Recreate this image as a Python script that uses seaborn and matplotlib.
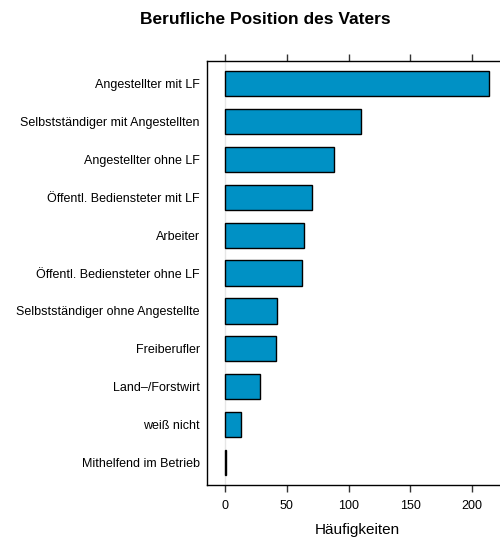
import matplotlib
matplotlib.use("Agg")
import matplotlib.pyplot as plt
import seaborn as sns
import pandas as pd

categories = [
    "Angestellter mit LF",
    "Selbstständiger mit Angestellten",
    "Angestellter ohne LF",
    "Öffentl. Bediensteter mit LF",
    "Arbeiter",
    "Öffentl. Bediensteter ohne LF",
    "Selbstständiger ohne Angestellte",
    "Freiberufler",
    "Land\u2013/Forstwirt",
    "weiß nicht",
    "Mithelfend im Betrieb",
]
counts = [214, 110, 88, 70, 64, 62, 42, 41, 28, 13, 1]
xticks = [0, 50, 100, 150, 200]

sns.set_theme(style="white")
plt.rcParams["font.family"] = ["Liberation Sans", "DejaVu Sans"]
plt.rcParams["text.color"] = "black"
plt.rcParams["axes.labelcolor"] = "black"
plt.rcParams["xtick.color"] = "black"
plt.rcParams["ytick.color"] = "black"

df = pd.DataFrame({"cat": categories, "n": counts})

fig = plt.figure(figsize=(5.0, 5.38), dpi=100)
ax = fig.add_axes([0.4134, 0.0985, 0.6026, 0.788])

ax.axvline(0, color="#E6E6E6", lw=1, zorder=0)
sns.barplot(data=df, x="n", y="cat", orient="h", order=categories,
            color="#0091C5", saturation=1, width=2/3,
            edgecolor="black", linewidth=1, ax=ax, zorder=2)

ax.set_xlim(-14.98, 228.98)
ax.set_ylim(10.6, -0.6)
ax.set_xticks(xticks)
ax.set_xticklabels([str(t) for t in xticks])
ax.set_xlabel("Häufigkeiten", fontsize=11, labelpad=8)
ax.set_ylabel("")

for s in ax.spines.values():
    s.set_visible(True)
    s.set_color("black")
    s.set_linewidth(1)

ax.tick_params(axis="x", which="both", bottom=True, top=True, direction="out",
               length=5, width=1, color="#333333", labelsize=9, pad=6,
               labelcolor="black")
ax.tick_params(axis="y", left=False, length=0, labelsize=9, pad=5,
               labelcolor="black")

fig.text(0.53, 1 - 20 / 538, "Berufliche Position des Vaters",
         ha="center", va="center", fontsize=12.5, fontweight="bold",
         color="black")

fig.savefig("out.png", dpi=100)
